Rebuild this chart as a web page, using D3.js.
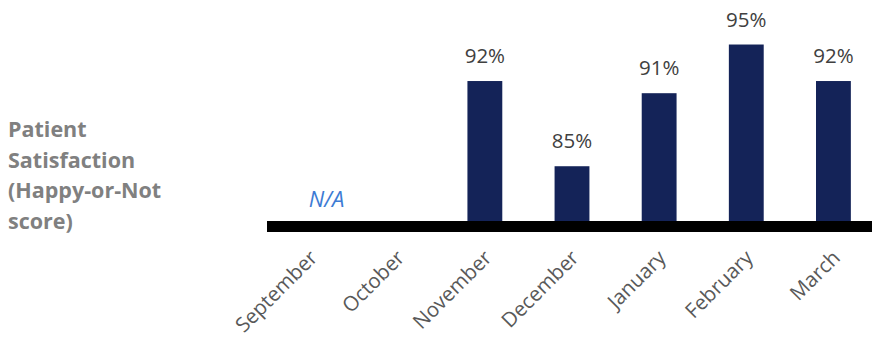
<!DOCTYPE html>
<html>
<head>
<meta charset="utf-8">
<script src="https://cdn.jsdelivr.net/npm/d3@7"></script>
<style>
  html, body { margin: 0; padding: 0; background: #fff; }
  svg { display: block; font-family: "Open Sans", sans-serif; }
</style>
</head>
<body>
<svg id="chart" width="872" height="337"></svg>
<script>
// ---------- data ----------
const months = ["September", "October", "November", "December", "January", "February", "March"];
const scores = [null, null, 0.92, 0.85, 0.91, 0.95, 0.92];
const titleLines = ["Patient", "Satisfaction", "(Happy-or-Not", "score)"];
const naLabel = "N/A";

const svg = d3.select("#chart");

// ---------- scales ----------
const x = d3.scaleBand().domain(months).range([267, 877]).paddingInner(0.6).paddingOuter(0.3);
const y = d3.scaleLinear().domain([0.805, 0.98]).range([221, 8]);
const pct = d3.format(".0%");

const rows = months.map((m, i) => ({ month: m, value: scores[i] }));
const withVal = rows.filter(d => d.value != null);

// ---------- title ----------
svg.append("text")
  .attr("fill", "#808080")
  .attr("font-size", 21.5)
  .attr("font-weight", "bold")
  .selectAll("tspan").data(titleLines).join("tspan")
  .attr("x", 8)
  .attr("y", (d, i) => 137 + i * 30.5)
  .text(d => d);

// ---------- bars ----------
svg.append("g").selectAll("rect").data(withVal).join("rect")
  .attr("x", d => x(d.month))
  .attr("width", x.bandwidth())
  .attr("y", d => y(d.value))
  .attr("height", d => y.range()[0] - y(d.value))
  .attr("fill", "#142358");

svg.append("g").selectAll("text").data(withVal).join("text")
  .attr("x", d => x(d.month) + x.bandwidth() / 2)
  .attr("y", d => y(d.value) - 18)
  .attr("text-anchor", "middle")
  .attr("font-size", 20.5)
  .attr("fill", "#404040")
  .text(d => pct(d.value));

// N/A note for months with no data
const first = rows.find(d => d.value == null);
svg.append("text")
  .attr("x", x(first.month) + x.bandwidth() / 2 + 16)
  .attr("y", 207)
  .attr("text-anchor", "middle")
  .attr("font-size", 22)
  .attr("font-style", "italic")
  .attr("fill", "#3d7bd4")
  .text(naLabel);

// ---------- axis ----------
const axisG = svg.append("g");
axisG.append("line")
  .attr("x1", x.range()[0]).attr("x2", x.range()[1])
  .attr("y1", 226.5).attr("y2", 226.5)
  .attr("stroke", "#000").attr("stroke-width", 11);

axisG.selectAll("text").data(months).join("text")
  .attr("text-anchor", "end")
  .attr("font-size", 20.5)
  .attr("fill", "#595959")
  .attr("transform", d => `translate(${x(d) + x.bandwidth() / 2 + 8},259) rotate(-45)`)
  .text(d => d);
</script>
</body>
</html>
